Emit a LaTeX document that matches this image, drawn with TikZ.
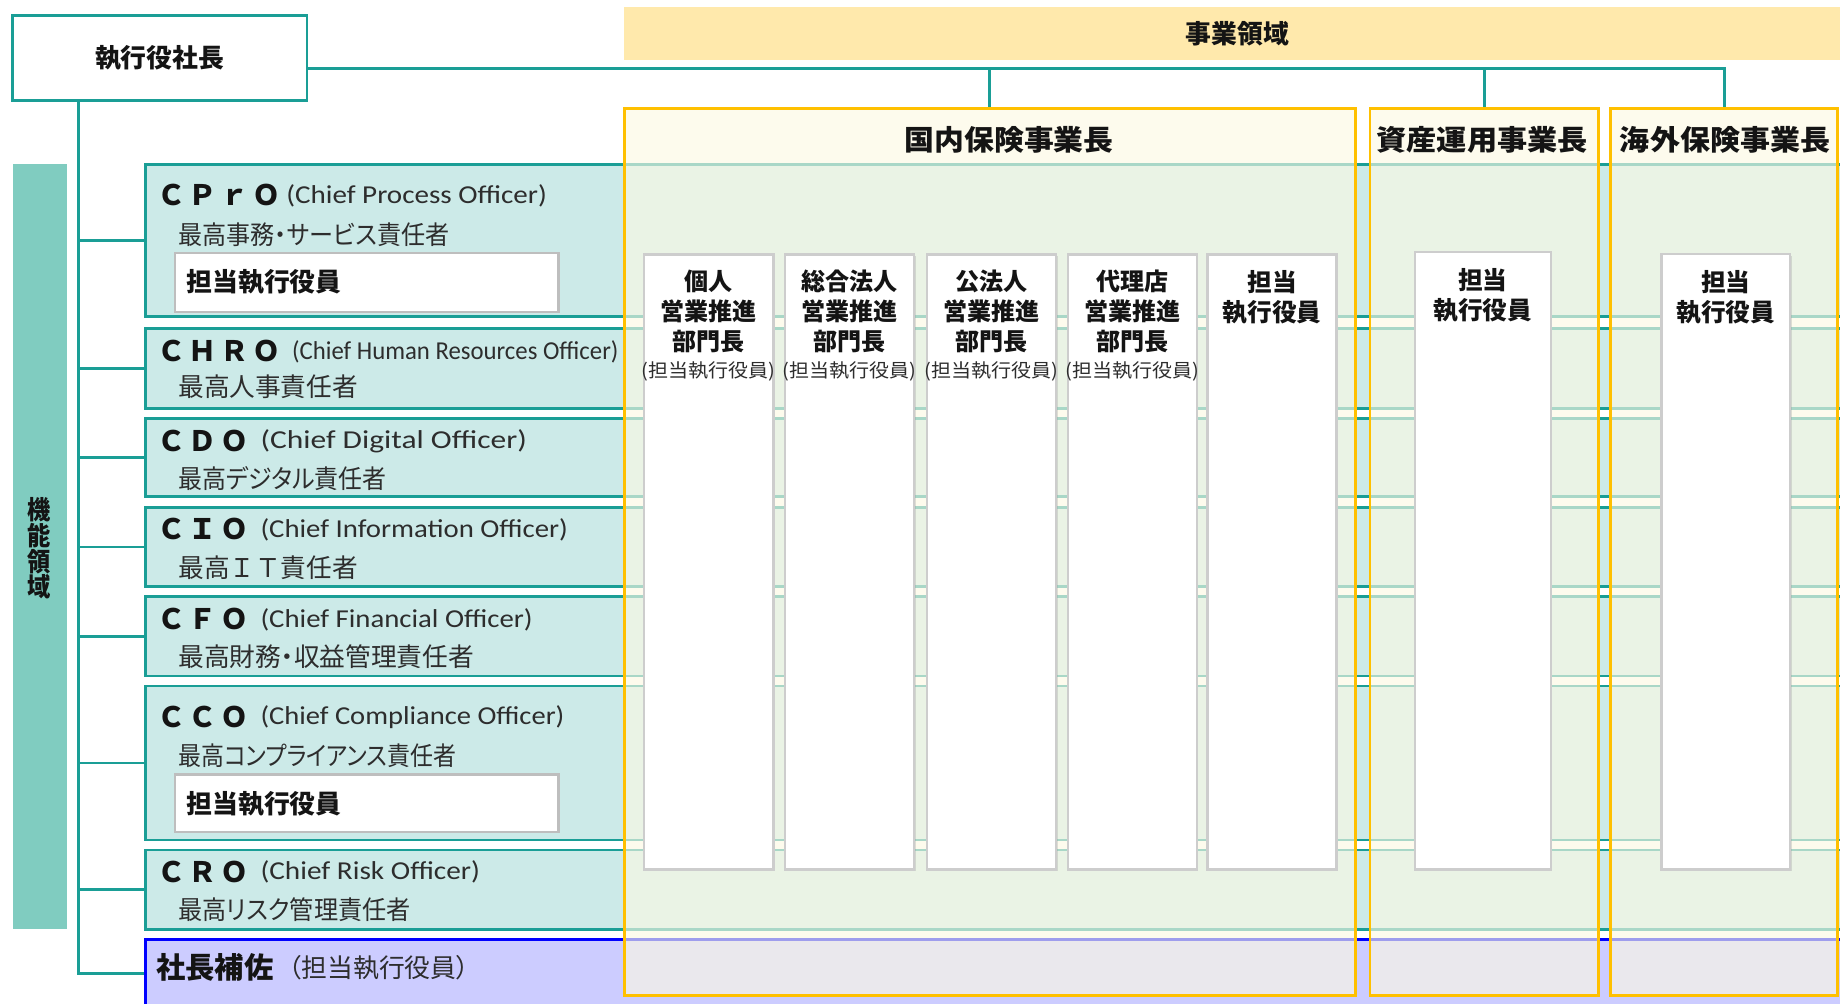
\documentclass[tikz,border=0pt]{standalone}
\usepackage{fontspec}
\usepackage{graphicx}
\setmainfont{Noto Sans CJK JP}
\newfontfamily\jpp{Noto Sans CJK JP}[RawFeature=+palt]
\newfontfamily\enf{Carlito}
\usetikzlibrary{shadows}
\definecolor{teal1}{RGB}{26,158,150}
\definecolor{rowfill}{RGB}{204,234,232}
\definecolor{barfill}{RGB}{128,204,192}
\definecolor{bizfill}{RGB}{255,233,172}
\definecolor{ybord}{RGB}{255,192,0}
\definecolor{panelc}{RGB}{253,249,228}
\definecolor{supfill}{RGB}{204,204,255}
\definecolor{supbord}{RGB}{0,0,255}
\definecolor{colbord}{RGB}{205,205,205}
\definecolor{subbord}{RGB}{190,190,190}
\definecolor{txt}{RGB}{20,20,20}
\definecolor{txt2}{RGB}{45,45,45}
\newcommand\fitw[2]{\resizebox{#1}{\height}{#2}}
\newcommand\acl[1]{\makebox[27pt][c]{#1}}
\pgfdeclarelayer{bg}
\pgfsetlayers{bg,main}
\tikzset{
  rect/.style={rectangle, inner sep=0pt, outer sep=0pt, anchor=north west},
  rowbox/.style={rect, draw=teal1, fill=rowfill, line width=2.3pt},
  conn/.style={draw=teal1, line width=2.4pt},
  panel/.style={rect, draw=ybord, line width=2.2pt, fill=panelc, fill opacity=0.63, draw opacity=1},
  colbox/.style={rect, draw=colbord, fill=white, line width=2pt, drop shadow={shadow xshift=1.3pt, shadow yshift=-1.3pt, opacity=0.3, fill=black!40}},
  subbox/.style={rect, draw=subbord, fill=white, line width=2.2pt},
  lbl/.style={inner sep=0pt, outer sep=0pt, text=txt},
  hdbig/.style={lbl, font=\bfseries\fontsize{24}{28}\selectfont},
  colhd/.style={lbl, font=\bfseries\fontsize{20.5}{24}\selectfont},
  colsub/.style={lbl, text=txt2, font=\fontsize{16}{19}\selectfont},
  acr/.style={lbl, anchor=west, font=\bfseries\fontsize{24}{28}\selectfont},
  entxt/.style={lbl, anchor=west, text=txt2, font=\enf\fontsize{22}{26}\selectfont},
  jptxt/.style={lbl, anchor=west, text=txt2, font=\jpp\fontsize{22}{26}\selectfont},
  jptxtw/.style={lbl, anchor=west, text=txt2, font=\fontsize{22}{26}\selectfont},
  subtxt/.style={lbl, anchor=west, font=\bfseries\fontsize{22}{26}\selectfont}
}
\begin{document}
\begin{tikzpicture}[x=1pt,y=-1pt]
\useasboundingbox (0,0) rectangle (1568,855);
\begin{pgfonlayer}{bg}
\fill[white] (0,0) rectangle (1568,855);
\end{pgfonlayer}

% top boxes
\node[rect, draw=teal1, fill=white, line width=2.5pt, minimum width=251.2pt, minimum height=72.2pt,
      font=\bfseries\fontsize{22}{26}\selectfont, text=txt] (ceo) at (10.4,13.6) {執行役社長};
\node[rect, fill=bizfill, minimum width=1050pt, minimum height=44.7pt] (biz) at (532,6.3) {};
\node[lbl, font=\bfseries\fontsize{22}{26}\selectfont] (biz-t) at (1054.6,29) {事業領域};

% function area bar
\node[rect, fill=barfill, minimum width=46pt, minimum height=652pt] (func) at (10.8,140) {};
\node[lbl, font=\bfseries\fontsize{22}{22}\selectfont, align=center] (func-t) at (33,467.3)
  {\scalebox{0.9}[1]{機}\\\scalebox{0.9}[1]{能}\\\scalebox{0.9}[1]{領}\\\scalebox{0.9}[1]{域}};

% function rows
\node[rowbox, minimum width=1476pt, minimum height=130pt] (cpro) at (124,140) {};
\node[rowbox, minimum width=1476pt, minimum height=68pt] (chro) at (124,280) {};
\node[rowbox, minimum width=1476pt, minimum height=66.7pt] (cdo) at (124,356.5) {};
\node[rowbox, minimum width=1476pt, minimum height=67.7pt] (cio) at (124,432.3) {};
\node[rowbox, minimum width=1476pt, minimum height=67.5pt] (cfo) at (124,508.5) {};
\node[rowbox, minimum width=1476pt, minimum height=131.2pt] (cco) at (124,584.6) {};
\node[rowbox, minimum width=1476pt, minimum height=67.7pt] (cro) at (124,724.3) {};
\node[rect, draw=supbord, fill=supfill, line width=2.8pt, minimum width=1476pt, minimum height=58pt] (sup) at (124,800.4) {};

% row texts
\node[acr] (cpro-a) at (132.5,166.5) {\acl{Ｃ}\acl{Ｐ}\acl{ｒ}\acl{Ｏ}};
\node[entxt] (cpro-e) at (244,167) {\fitw{222pt}{(Chief Process Officer)}};
\node[jptxt] (cpro-j) at (152,200) {\fitw{231pt}{最高事務・サービス責任者}};
\node[subbox, minimum width=327pt, minimum height=50.5pt] (cpro-b) at (149,215.5) {};
\node[subtxt] (cpro-bt) at (159,240.7) {担当執行役員};

\node[acr] (chro-a) at (132.5,299.4) {\acl{Ｃ}\acl{Ｈ}\acl{Ｒ}\acl{Ｏ}};
\node[entxt] (chro-e) at (249,300) {\fitw{278pt}{(Chief Human Resources Officer)}};
\node[jptxtw] (chro-j) at (152,329.5) {\fitw{153pt}{最高人事責任者}};

\node[acr] (cdo-a) at (132.5,375.7) {\acl{Ｃ}\acl{Ｄ}\acl{Ｏ}};
\node[entxt] (cdo-e) at (222,376.2) {\fitw{227pt}{(Chief Digital Officer)}};
\node[jptxt] (cdo-j) at (152,407.6) {\fitw{177.5pt}{最高デジタル責任者}};

\node[acr] (cio-a) at (132.5,451) {\acl{Ｃ}\acl{Ｉ}\acl{Ｏ}};
\node[entxt] (cio-e) at (222,451.5) {\fitw{262pt}{(Chief Information Officer)}};
\node[jptxtw] (cio-j) at (152,483.6) {\fitw{153pt}{最高ＩＴ責任者}};

\node[acr] (cfo-a) at (132.5,527.6) {\acl{Ｃ}\acl{Ｆ}\acl{Ｏ}};
\node[entxt] (cfo-e) at (222,528.1) {\fitw{232pt}{(Chief Financial Officer)}};
\node[jptxt] (cfo-j) at (152,559.6) {\fitw{252pt}{最高財務・収益管理責任者}};

\node[acr] (cco-a) at (132.5,611) {\acl{Ｃ}\acl{Ｃ}\acl{Ｏ}};
\node[entxt] (cco-e) at (222,611.5) {\fitw{259pt}{(Chief Compliance Officer)}};
\node[jptxt] (cco-j) at (152,644) {\fitw{237pt}{最高コンプライアンス責任者}};
\node[subbox, minimum width=327pt, minimum height=49pt] (cco-b) at (149,660) {};
\node[subtxt] (cco-bt) at (159,685) {担当執行役員};

\node[acr] (cro-a) at (132.5,742.8) {\acl{Ｃ}\acl{Ｒ}\acl{Ｏ}};
\node[entxt] (cro-e) at (222,743.3) {\fitw{187pt}{(Chief Risk Officer)}};
\node[jptxt] (cro-j) at (152,775.3) {\fitw{198pt}{最高リスク管理責任者}};

\node[lbl, anchor=west, font=\bfseries\fontsize{25}{30}\selectfont] (sup-t) at (133,824.5) {社長補佐};
\node[lbl, anchor=west, text=txt2, font=\jpp\fontsize{22}{26}\selectfont] (sup-s) at (246,824.5) {\fitw{154pt}{（担当執行役員）}};

% business panels
\node[panel, minimum width=623pt, minimum height=756pt] (dom) at (532,92.3) {};
\node[panel, minimum width=194.5pt, minimum height=756pt] (ast) at (1167.5,92.3) {};
\node[panel, minimum width=193.5pt, minimum height=756pt] (ovs) at (1372.5,92.3) {};
\node[hdbig] (dom-t) at (860,119.3) {\fitw{178pt}{国内保険事業長}};
\node[hdbig] (ast-t) at (1263,119.6) {\fitw{180pt}{資産運用事業長}};
\node[hdbig] (ovs-t) at (1470,119.6) {\fitw{179pt}{海外保険事業長}};

% columns
\foreach \n/\x in {c1/549, c2/669, c3/790, c4/910, c5/1029}
  \node[colbox, minimum width=110pt, minimum height=524pt] (\n) at (\x,217) {};
\node[colbox, minimum width=115.5pt, minimum height=526.5pt] (c6) at (1206,214.5) {};
\node[colbox, minimum width=109.5pt, minimum height=524.5pt] (c7) at (1416,216.5) {};

\foreach \n/\cx/\a in {c1/604/個人, c2/724/総合法人, c3/845/公法人, c4/965/代理店}{
  \node[colhd] (\n-a) at (\cx,240) {\a};
  \node[colhd] (\n-b) at (\cx,265.6) {営業推進};
  \node[colhd] (\n-c) at (\cx,291) {部門長};
  \node[colsub] (\n-d) at (\cx,316.7) {\fitw{114pt}{(担当執行役員)}};
}
\foreach \n/\cx/\ya in {c5/1084/240, c6/1263.7/238.6, c7/1470.7/240}{
  \node[colhd, font=\bfseries\fontsize{21}{24}\selectfont] (\n-a) at (\cx,\ya) {担当};
  \node[colhd, font=\bfseries\fontsize{21}{24}\selectfont] (\n-b) at (\cx,\ya+25.8) {執行役員};
}

% connectors
\begin{pgfonlayer}{bg}
\coordinate (bus) at ([yshift=-9pt]ceo.east);
\coordinate (spine) at ([xshift=56.4pt]ceo.south west);
\draw[conn] (bus) -| (ovs.north);
\draw[conn] (dom.north) -- (dom.north |- bus);
\draw[conn] (ast.north) -- (ast.north |- bus);
\draw[conn] (spine) |- (sup.west);
\foreach \r in {cpro,chro,cdo,cio,cfo,cco,cro}
  \draw[conn] (\r.west) -- (\r.west -| spine);
\end{pgfonlayer}
\end{tikzpicture}
\end{document}
